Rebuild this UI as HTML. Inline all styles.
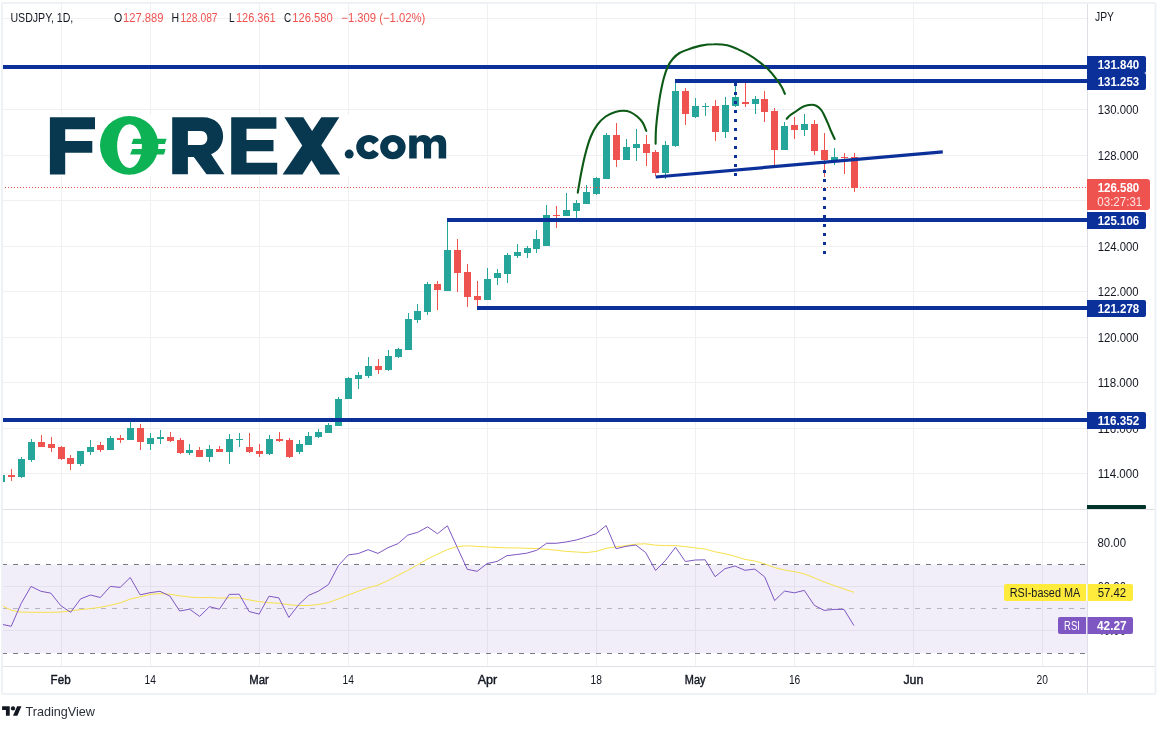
<!DOCTYPE html>
<html><head><meta charset="utf-8"><title>USDJPY 1D</title>
<style>html,body{margin:0;padding:0;background:#fff;}body{width:1165px;height:729px;overflow:hidden;}svg{display:block;will-change:transform;}text{font-family:"Liberation Sans",sans-serif;}</style>
</head><body>
<svg width="1165" height="729" viewBox="0 0 1165 729">
<rect x="0" y="0" width="1165" height="729" fill="#ffffff"/>
<g shape-rendering="crispEdges" fill="#f0f0f2">
<rect x="61" y="4" width="1" height="662"/>
<rect x="150" y="4" width="1" height="662"/>
<rect x="259" y="4" width="1" height="662"/>
<rect x="348" y="4" width="1" height="662"/>
<rect x="487" y="4" width="1" height="662"/>
<rect x="596" y="4" width="1" height="662"/>
<rect x="695" y="4" width="1" height="662"/>
<rect x="794" y="4" width="1" height="662"/>
<rect x="913" y="4" width="1" height="662"/>
<rect x="1042" y="4" width="1" height="662"/>
<rect x="3" y="18" width="1084" height="1"/>
<rect x="3" y="109" width="1084" height="1"/>
<rect x="3" y="155" width="1084" height="1"/>
<rect x="3" y="200" width="1084" height="1"/>
<rect x="3" y="246" width="1084" height="1"/>
<rect x="3" y="291" width="1084" height="1"/>
<rect x="3" y="337" width="1084" height="1"/>
<rect x="3" y="382" width="1084" height="1"/>
<rect x="3" y="428" width="1084" height="1"/>
<rect x="3" y="473" width="1084" height="1"/>
<rect x="3" y="542" width="1084" height="1"/>
<rect x="3" y="586" width="1084" height="1"/>
<rect x="3" y="630" width="1084" height="1"/>
</g>
<rect x="2" y="565" width="1085" height="88" fill="#7e57c2" fill-opacity="0.1"/>
<g shape-rendering="crispEdges" fill="none" stroke-width="1">
<path d="M2 564.5H1087" stroke="#787b86" stroke-dasharray="5 6"/>
<path d="M2 608.5H1087" stroke="#787b86" stroke-opacity="0.5" stroke-dasharray="5 6"/>
<path d="M2 653.5H1087" stroke="#787b86" stroke-dasharray="5 6"/>
</g>
<g id="logo">
<rect x="49" y="115" width="398" height="61" fill="#ffffff"/>
<g fill="#07384f">
<path d="M49.9 117.3H95V129.3H65.2V141H92.3V152.8H65.2V174.4H49.9Z"/>
<path fill-rule="evenodd" d="M172.2 117.2H203C215 117.2 223.1 125 223.1 136C223.1 145 218 151.5 211.1 154.2L224.4 174.3H206.5L193.8 157.1H187.9V174.3H172.2ZM187.9 131.1V145.1H201C205 145.1 207.3 142 207.3 138.1C207.3 134 205 131.1 201 131.1Z"/>
<path d="M231.2 117.3H276.4V128.7H246.5V140.1H273.5V151.2H246.5V162.8H277.2V174.4H231.2Z"/>
<path d="M284.4 117.3H303.3L312.1 130.9L321.3 117.3H339.3L321.3 145.3L340.2 174.4H320.4L311.5 160.3L302.4 174.4H282.6L302.2 145.4Z"/>
<circle cx="349.2" cy="154.1" r="4.5"/>
<clipPath id="cc"><path d="M350 130H378.5V140.7L373 144.6V149.7L378.5 153.3V164H350Z"/></clipPath>
<path clip-path="url(#cc)" fill-rule="evenodd" d="M368.95 134.9A12.75 12.15 0 1 0 368.95 159.2A12.75 12.15 0 1 0 368.95 134.9ZM368.95 142.1A4.9 4.95 0 1 1 368.95 152A4.9 4.95 0 1 1 368.95 142.1Z"/>
<path fill-rule="evenodd" d="M392.9 134.9A12.75 12.15 0 1 0 392.9 159.2A12.75 12.15 0 1 0 392.9 134.9ZM392.9 142.1A4.9 4.95 0 1 1 392.9 152A4.9 4.95 0 1 1 392.9 142.1Z"/>
<path d="M409.2 158.5V135.6H416.7V138.3C418.2 136 420.7 134.9 423.3 134.9C426.8 134.9 429.3 136.4 430.6 139C432.4 136.4 435.2 134.9 438.3 134.9C443.3 134.9 446.2 138.2 446.2 143.7V158.5H438.7V145.5C438.7 143 437.4 141.6 435.2 141.6C433 141.6 431.1 143 431.1 145.5V158.5H424V145.5C424 143 422.6 141.6 420.5 141.6C418.3 141.6 416.7 143 416.7 145.5V158.5Z"/>
</g>
<g fill="#0db254">
<path fill-rule="evenodd" d="M129.2 116A29.2 29.4 0 1 0 129.2 174.8A29.2 29.4 0 1 0 129.2 116ZM129.5 124.2A12.4 21.9 0 1 1 129.5 168A12.4 21.9 0 1 1 129.5 124.2Z"/>
<path d="M133.4 138.8H166.6L164.9 143.9H131.5Z"/>
<path d="M132.3 148.9H165.6L164 154.4H130.1Z"/>
</g>
</g>
<g shape-rendering="crispEdges">
<rect x="3" y="475" width="2" height="7" fill="#26a69a"/>
<rect x="11" y="469" width="1" height="12" fill="#ef5350"/>
<rect x="8" y="475" width="7" height="2" fill="#ef5350"/>
<rect x="21" y="457" width="1" height="21" fill="#26a69a"/>
<rect x="18" y="459" width="7" height="18" fill="#26a69a"/>
<rect x="31" y="439" width="1" height="23" fill="#26a69a"/>
<rect x="28" y="442" width="7" height="18" fill="#26a69a"/>
<rect x="41" y="435" width="1" height="12" fill="#ef5350"/>
<rect x="38" y="442" width="7" height="5" fill="#ef5350"/>
<rect x="51" y="437" width="1" height="15" fill="#ef5350"/>
<rect x="48" y="444" width="7" height="4" fill="#ef5350"/>
<rect x="61" y="446" width="1" height="14" fill="#ef5350"/>
<rect x="58" y="447" width="7" height="12" fill="#ef5350"/>
<rect x="70" y="455" width="1" height="15" fill="#ef5350"/>
<rect x="67" y="458" width="7" height="6" fill="#ef5350"/>
<rect x="80" y="451" width="1" height="15" fill="#26a69a"/>
<rect x="77" y="451" width="7" height="13" fill="#26a69a"/>
<rect x="90" y="440" width="1" height="15" fill="#26a69a"/>
<rect x="87" y="447" width="7" height="5" fill="#26a69a"/>
<rect x="100" y="442" width="1" height="10" fill="#ef5350"/>
<rect x="97" y="445" width="7" height="5" fill="#ef5350"/>
<rect x="110" y="436" width="1" height="14" fill="#26a69a"/>
<rect x="107" y="438" width="7" height="12" fill="#26a69a"/>
<rect x="120" y="435" width="1" height="8" fill="#ef5350"/>
<rect x="117" y="438" width="7" height="2" fill="#ef5350"/>
<rect x="130" y="422" width="1" height="18" fill="#26a69a"/>
<rect x="127" y="428" width="7" height="12" fill="#26a69a"/>
<rect x="140" y="424" width="1" height="26" fill="#ef5350"/>
<rect x="137" y="428" width="7" height="14" fill="#ef5350"/>
<rect x="150" y="433" width="1" height="17" fill="#26a69a"/>
<rect x="147" y="438" width="7" height="6" fill="#26a69a"/>
<rect x="160" y="430" width="1" height="14" fill="#26a69a"/>
<rect x="157" y="437" width="7" height="2" fill="#26a69a"/>
<rect x="170" y="432" width="1" height="10" fill="#ef5350"/>
<rect x="167" y="437" width="7" height="4" fill="#ef5350"/>
<rect x="180" y="438" width="1" height="16" fill="#ef5350"/>
<rect x="177" y="440" width="7" height="13" fill="#ef5350"/>
<rect x="189" y="444" width="1" height="11" fill="#26a69a"/>
<rect x="186" y="450" width="7" height="3" fill="#26a69a"/>
<rect x="199" y="447" width="1" height="10" fill="#ef5350"/>
<rect x="196" y="450" width="7" height="7" fill="#ef5350"/>
<rect x="209" y="445" width="1" height="17" fill="#26a69a"/>
<rect x="206" y="449" width="7" height="8" fill="#26a69a"/>
<rect x="219" y="446" width="1" height="6" fill="#ef5350"/>
<rect x="216" y="449" width="7" height="3" fill="#ef5350"/>
<rect x="229" y="434" width="1" height="30" fill="#26a69a"/>
<rect x="226" y="439" width="7" height="13" fill="#26a69a"/>
<rect x="239" y="433" width="1" height="14" fill="#26a69a"/>
<rect x="236" y="439" width="7" height="1" fill="#26a69a"/>
<rect x="249" y="433" width="1" height="20" fill="#ef5350"/>
<rect x="246" y="447" width="7" height="5" fill="#ef5350"/>
<rect x="259" y="444" width="1" height="13" fill="#ef5350"/>
<rect x="256" y="451" width="7" height="3" fill="#ef5350"/>
<rect x="269" y="435" width="1" height="20" fill="#26a69a"/>
<rect x="266" y="439" width="7" height="15" fill="#26a69a"/>
<rect x="279" y="432" width="1" height="10" fill="#ef5350"/>
<rect x="276" y="439" width="7" height="2" fill="#ef5350"/>
<rect x="289" y="438" width="1" height="20" fill="#ef5350"/>
<rect x="286" y="440" width="7" height="17" fill="#ef5350"/>
<rect x="299" y="440" width="1" height="14" fill="#26a69a"/>
<rect x="296" y="444" width="7" height="8" fill="#26a69a"/>
<rect x="308" y="432" width="1" height="13" fill="#26a69a"/>
<rect x="305" y="436" width="7" height="9" fill="#26a69a"/>
<rect x="318" y="429" width="1" height="9" fill="#26a69a"/>
<rect x="315" y="432" width="7" height="5" fill="#26a69a"/>
<rect x="328" y="423" width="1" height="10" fill="#26a69a"/>
<rect x="325" y="425" width="7" height="8" fill="#26a69a"/>
<rect x="338" y="397" width="1" height="29" fill="#26a69a"/>
<rect x="335" y="399" width="7" height="27" fill="#26a69a"/>
<rect x="348" y="377" width="1" height="22" fill="#26a69a"/>
<rect x="345" y="378" width="7" height="21" fill="#26a69a"/>
<rect x="358" y="372" width="1" height="17" fill="#26a69a"/>
<rect x="355" y="375" width="7" height="4" fill="#26a69a"/>
<rect x="368" y="357" width="1" height="21" fill="#26a69a"/>
<rect x="365" y="366" width="7" height="10" fill="#26a69a"/>
<rect x="378" y="359" width="1" height="15" fill="#ef5350"/>
<rect x="375" y="366" width="7" height="4" fill="#ef5350"/>
<rect x="388" y="350" width="1" height="21" fill="#26a69a"/>
<rect x="385" y="356" width="7" height="14" fill="#26a69a"/>
<rect x="398" y="348" width="1" height="10" fill="#26a69a"/>
<rect x="395" y="349" width="7" height="8" fill="#26a69a"/>
<rect x="408" y="313" width="1" height="37" fill="#26a69a"/>
<rect x="405" y="319" width="7" height="31" fill="#26a69a"/>
<rect x="417" y="304" width="1" height="19" fill="#26a69a"/>
<rect x="414" y="311" width="7" height="9" fill="#26a69a"/>
<rect x="427" y="282" width="1" height="33" fill="#26a69a"/>
<rect x="424" y="284" width="7" height="28" fill="#26a69a"/>
<rect x="437" y="281" width="1" height="29" fill="#ef5350"/>
<rect x="434" y="284" width="7" height="6" fill="#ef5350"/>
<rect x="447" y="220" width="1" height="71" fill="#26a69a"/>
<rect x="444" y="250" width="7" height="41" fill="#26a69a"/>
<rect x="457" y="239" width="1" height="53" fill="#ef5350"/>
<rect x="454" y="250" width="7" height="23" fill="#ef5350"/>
<rect x="467" y="264" width="1" height="43" fill="#ef5350"/>
<rect x="464" y="272" width="7" height="25" fill="#ef5350"/>
<rect x="477" y="281" width="1" height="25" fill="#ef5350"/>
<rect x="474" y="296" width="7" height="4" fill="#ef5350"/>
<rect x="487" y="268" width="1" height="32" fill="#26a69a"/>
<rect x="484" y="279" width="7" height="21" fill="#26a69a"/>
<rect x="497" y="269" width="1" height="16" fill="#26a69a"/>
<rect x="494" y="273" width="7" height="5" fill="#26a69a"/>
<rect x="507" y="253" width="1" height="30" fill="#26a69a"/>
<rect x="504" y="255" width="7" height="19" fill="#26a69a"/>
<rect x="517" y="244" width="1" height="14" fill="#26a69a"/>
<rect x="514" y="252" width="7" height="4" fill="#26a69a"/>
<rect x="527" y="246" width="1" height="12" fill="#26a69a"/>
<rect x="524" y="248" width="7" height="5" fill="#26a69a"/>
<rect x="536" y="230" width="1" height="23" fill="#26a69a"/>
<rect x="533" y="239" width="7" height="10" fill="#26a69a"/>
<rect x="546" y="205" width="1" height="41" fill="#26a69a"/>
<rect x="543" y="215" width="7" height="31" fill="#26a69a"/>
<rect x="556" y="206" width="1" height="22" fill="#ef5350"/>
<rect x="553" y="215" width="7" height="1" fill="#ef5350"/>
<rect x="566" y="193" width="1" height="23" fill="#26a69a"/>
<rect x="563" y="210" width="7" height="6" fill="#26a69a"/>
<rect x="576" y="200" width="1" height="18" fill="#26a69a"/>
<rect x="573" y="203" width="7" height="8" fill="#26a69a"/>
<rect x="586" y="185" width="1" height="19" fill="#26a69a"/>
<rect x="583" y="192" width="7" height="12" fill="#26a69a"/>
<rect x="596" y="177" width="1" height="18" fill="#26a69a"/>
<rect x="593" y="178" width="7" height="16" fill="#26a69a"/>
<rect x="606" y="133" width="1" height="46" fill="#26a69a"/>
<rect x="603" y="135" width="7" height="44" fill="#26a69a"/>
<rect x="616" y="123" width="1" height="44" fill="#ef5350"/>
<rect x="613" y="135" width="7" height="25" fill="#ef5350"/>
<rect x="626" y="139" width="1" height="21" fill="#26a69a"/>
<rect x="623" y="147" width="7" height="13" fill="#26a69a"/>
<rect x="636" y="129" width="1" height="32" fill="#26a69a"/>
<rect x="633" y="144" width="7" height="4" fill="#26a69a"/>
<rect x="646" y="135" width="1" height="31" fill="#ef5350"/>
<rect x="643" y="144" width="7" height="9" fill="#ef5350"/>
<rect x="655" y="150" width="1" height="26" fill="#ef5350"/>
<rect x="652" y="152" width="7" height="21" fill="#ef5350"/>
<rect x="665" y="141" width="1" height="38" fill="#26a69a"/>
<rect x="662" y="145" width="7" height="28" fill="#26a69a"/>
<rect x="675" y="83" width="1" height="64" fill="#26a69a"/>
<rect x="672" y="91" width="7" height="55" fill="#26a69a"/>
<rect x="685" y="88" width="1" height="37" fill="#ef5350"/>
<rect x="682" y="91" width="7" height="23" fill="#ef5350"/>
<rect x="695" y="98" width="1" height="20" fill="#26a69a"/>
<rect x="692" y="106" width="7" height="11" fill="#26a69a"/>
<rect x="705" y="103" width="1" height="13" fill="#26a69a"/>
<rect x="702" y="106" width="7" height="1" fill="#26a69a"/>
<rect x="715" y="100" width="1" height="41" fill="#ef5350"/>
<rect x="712" y="106" width="7" height="26" fill="#ef5350"/>
<rect x="725" y="97" width="1" height="41" fill="#26a69a"/>
<rect x="722" y="105" width="7" height="27" fill="#26a69a"/>
<rect x="735" y="83" width="1" height="24" fill="#26a69a"/>
<rect x="732" y="97" width="7" height="9" fill="#26a69a"/>
<rect x="745" y="83" width="1" height="24" fill="#ef5350"/>
<rect x="742" y="102" width="7" height="2" fill="#ef5350"/>
<rect x="755" y="96" width="1" height="18" fill="#26a69a"/>
<rect x="752" y="99" width="7" height="5" fill="#26a69a"/>
<rect x="764" y="91" width="1" height="31" fill="#ef5350"/>
<rect x="761" y="99" width="7" height="13" fill="#ef5350"/>
<rect x="774" y="108" width="1" height="57" fill="#ef5350"/>
<rect x="771" y="111" width="7" height="39" fill="#ef5350"/>
<rect x="784" y="122" width="1" height="28" fill="#26a69a"/>
<rect x="781" y="126" width="7" height="24" fill="#26a69a"/>
<rect x="794" y="117" width="1" height="22" fill="#ef5350"/>
<rect x="791" y="125" width="7" height="5" fill="#ef5350"/>
<rect x="804" y="114" width="1" height="22" fill="#26a69a"/>
<rect x="801" y="124" width="7" height="6" fill="#26a69a"/>
<rect x="814" y="120" width="1" height="35" fill="#ef5350"/>
<rect x="811" y="124" width="7" height="27" fill="#ef5350"/>
<rect x="824" y="133" width="1" height="44" fill="#ef5350"/>
<rect x="821" y="150" width="7" height="10" fill="#ef5350"/>
<rect x="834" y="148" width="1" height="17" fill="#26a69a"/>
<rect x="831" y="157" width="7" height="3" fill="#26a69a"/>
<rect x="844" y="153" width="1" height="21" fill="#ef5350"/>
<rect x="841" y="157" width="7" height="1" fill="#ef5350"/>
<rect x="854" y="153" width="1" height="39" fill="#ef5350"/>
<rect x="851" y="157" width="7" height="31" fill="#ef5350"/>
</g>
<path d="M2 187.5H1087" stroke="#ef5350" stroke-width="1" stroke-dasharray="1 2" fill="none" shape-rendering="crispEdges"/>
<g shape-rendering="crispEdges" fill="#0c309a">
<rect x="3" y="65" width="1084" height="4"/>
<rect x="675" y="79" width="412" height="4"/>
<rect x="447" y="218" width="640" height="4"/>
<rect x="477" y="306" width="610" height="4"/>
<rect x="3" y="418" width="1084" height="4"/>
</g>
<path d="M655.7 177L942.8 151.9" stroke="#0c309a" stroke-width="3.2" fill="none"/>
<path d="M735.5 83V176" stroke="#0c309a" stroke-width="3" stroke-dasharray="3 6" fill="none"/>
<path d="M824.5 161.1V254.2" stroke="#0c309a" stroke-width="3" stroke-dasharray="3 6" fill="none"/>
<g fill="none" stroke="#0c5a16" stroke-width="2.1" stroke-linecap="round" stroke-linejoin="round">
<path d="M577.8 192.6C578.3 189.5 579.8 180.3 581.0 174.0C582.2 167.7 583.5 161.1 585.1 154.9C586.7 148.7 588.6 142.0 590.6 137.0C592.6 132.0 594.9 128.1 597.4 124.7C599.9 121.3 602.7 118.6 605.7 116.5C608.7 114.4 612.3 113.1 615.3 112.1C618.3 111.1 621.0 110.7 623.5 110.7C626.0 110.7 628.1 111.1 630.4 112.1C632.7 113.1 635.2 114.8 637.2 116.5C639.2 118.2 641.2 120.2 642.7 122.6C644.2 125.0 645.7 129.5 646.3 130.9"/>
<path d="M655.6 143.6C655.7 141.1 655.6 134.6 656.0 128.8C656.4 123.0 657.3 115.0 658.1 109.0C658.9 103.0 659.6 97.8 660.6 92.6C661.6 87.4 662.7 82.1 663.9 77.7C665.1 73.3 666.5 69.4 668.0 66.2C669.5 63.1 671.0 61.0 672.9 58.8C674.8 56.6 676.8 54.6 679.5 53.0C682.2 51.4 685.8 50.1 689.4 48.9C693.0 47.7 696.8 46.4 700.9 45.6C705.0 44.8 709.7 44.3 714.1 44.3C718.5 44.2 723.4 44.5 727.2 45.3C731.0 46.1 733.5 47.3 737.1 48.9C740.7 50.5 745.0 52.6 748.6 54.7C752.2 56.8 755.2 58.8 758.5 61.3C761.8 63.8 765.4 66.5 768.4 69.5C771.4 72.5 774.4 76.5 776.6 79.4C778.8 82.3 780.2 84.4 781.6 86.8C783.0 89.2 784.4 92.7 784.9 93.9"/>
<path d="M786.7 118.8C787.2 118.2 788.4 116.6 789.8 115.5C791.1 114.4 793.0 113.4 794.8 112.2C796.6 111.0 798.6 109.2 800.5 108.1C802.4 107.0 804.4 106.1 806.3 105.6C808.2 105.0 810.4 104.8 812.0 104.8C813.6 104.8 814.8 105.1 816.2 105.8C817.6 106.5 819.1 107.6 820.3 108.9C821.5 110.2 822.4 111.6 823.6 113.9C824.8 116.2 826.3 119.8 827.7 122.9C829.1 126.1 830.6 130.1 831.8 132.8C833.0 135.5 834.2 138.0 834.7 139.0"/>
</g>
<clipPath id="pc"><rect x="3" y="510" width="1084" height="156"/></clipPath>
<g clip-path="url(#pc)" fill="none" stroke-width="1" stroke-linejoin="round">
<path d="M1.3 605.3L11.2 610.2L21.1 612.1L31.0 612.3L40.9 612.3L50.8 612.3L60.8 612.1L70.7 610.8L80.6 609.6L90.5 608.6L100.4 607.3L110.3 605.3L120.2 602.8L130.2 599.1L140.1 596.8L150.0 594.4L159.9 593.6L169.8 594.2L179.7 595.8L189.6 597.1L199.6 597.7L209.5 597.4L219.4 598.1L229.3 597.9L239.2 597.9L249.1 599.9L259.1 601.6L269.0 602.8L278.9 603.2L288.8 604.7L298.7 605.5L308.6 605.5L318.5 604.5L328.5 602.6L338.4 598.9L348.3 595.0L358.2 591.3L368.1 587.8L378.0 585.1L387.9 580.6L397.9 575.4L407.8 570.3L417.7 564.8L427.6 559.0L437.5 554.2L447.4 549.5L457.3 546.6L467.3 545.8L477.2 546.4L487.1 547.0L497.0 547.5L506.9 547.9L516.8 547.9L526.7 548.3L536.7 548.5L546.6 549.3L556.5 550.3L566.4 551.4L576.3 552.0L586.2 552.6L596.1 551.4L606.1 548.4L616.0 546.8L625.9 545.6L635.8 544.2L645.7 543.8L655.6 545.2L665.5 545.6L675.5 545.6L685.4 546.6L695.3 547.9L705.2 549.1L715.1 551.8L725.0 553.8L734.9 556.3L744.9 559.4L754.8 561.0L764.7 563.9L774.6 567.6L784.5 570.0L794.4 571.6L804.3 573.9L814.3 577.8L824.2 582.0L834.1 585.5L844.0 589.0L853.9 592.3" stroke="#f7e14a"/>
<path d="M1.3 624.2L11.2 626.3L21.1 603.6L31.0 586.4L40.9 591.3L50.8 593.1L60.8 605.7L70.7 612.3L80.6 598.9L90.5 595.0L100.4 597.5L110.3 586.4L120.2 587.4L130.2 577.5L140.1 594.8L150.0 592.7L159.9 591.3L169.8 596.0L179.7 611.0L189.6 609.2L199.6 616.4L209.5 606.7L219.4 609.2L229.3 594.4L239.2 594.2L249.1 611.5L259.1 614.1L269.0 596.2L278.9 597.9L288.8 617.4L298.7 604.7L308.6 595.4L318.5 591.1L328.5 584.5L338.4 565.6L348.3 554.9L358.2 553.6L368.1 549.7L378.0 553.4L387.9 547.7L397.9 543.7L407.8 535.1L417.7 532.3L427.6 526.9L437.5 533.7L447.4 525.8L457.3 547.5L467.3 569.3L477.2 571.3L487.1 563.5L497.0 561.5L506.9 555.7L516.8 554.5L526.7 553.2L536.7 550.3L546.6 543.3L556.5 543.3L566.4 541.9L576.3 540.0L586.2 537.0L596.1 533.7L606.1 525.5L616.0 548.7L625.9 546.4L635.8 545.0L645.7 552.6L655.6 570.5L665.5 560.4L675.5 547.3L685.4 561.5L695.3 560.0L705.2 559.8L715.1 576.7L725.0 568.7L734.9 566.0L744.9 570.3L754.8 569.1L764.7 576.9L774.6 600.6L784.5 591.1L794.4 592.8L804.3 590.4L814.3 605.3L824.2 610.4L834.1 609.4L844.0 609.4L853.9 625.5" stroke="#7e57c2"/>
</g>
<g shape-rendering="crispEdges" fill="#dfe0e5">
<rect x="3" y="509" width="1152" height="1"/>
<rect x="3" y="666" width="1152" height="1"/>
<rect x="1087" y="4" width="1" height="689"/>
</g>
<text x="1095" y="21" font-size="12" fill="#131722" textLength="19" lengthAdjust="spacingAndGlyphs">JPY</text>
<text x="1097.7" y="114" font-size="12" fill="#131722" textLength="41" lengthAdjust="spacingAndGlyphs">130.000</text>
<text x="1097.7" y="159.5" font-size="12" fill="#131722" textLength="41" lengthAdjust="spacingAndGlyphs">128.000</text>
<text x="1097.7" y="250.5" font-size="12" fill="#131722" textLength="41" lengthAdjust="spacingAndGlyphs">124.000</text>
<text x="1097.7" y="296" font-size="12" fill="#131722" textLength="41" lengthAdjust="spacingAndGlyphs">122.000</text>
<text x="1097.7" y="341.5" font-size="12" fill="#131722" textLength="41" lengthAdjust="spacingAndGlyphs">120.000</text>
<text x="1097.7" y="387" font-size="12" fill="#131722" textLength="41" lengthAdjust="spacingAndGlyphs">118.000</text>
<text x="1097.7" y="433" font-size="12" fill="#131722" textLength="41" lengthAdjust="spacingAndGlyphs">116.000</text>
<text x="1097.7" y="477.5" font-size="12" fill="#131722" textLength="41" lengthAdjust="spacingAndGlyphs">114.000</text>
<text x="1097.5" y="547" font-size="12" fill="#131722" textLength="28.5" lengthAdjust="spacingAndGlyphs">80.00</text>
<text x="1097.5" y="591" font-size="12" fill="#131722" textLength="28.5" lengthAdjust="spacingAndGlyphs">60.00</text>
<text x="1097.5" y="635" font-size="12" fill="#131722" textLength="28.5" lengthAdjust="spacingAndGlyphs">40.00</text>
<path d="M1087 56H1144Q1146 56 1146 58V71Q1146 73 1144 73H1087Z" fill="#0c309a"/>
<path d="M1087 73H1144Q1146 73 1146 75V88Q1146 90 1144 90H1087Z" fill="#0c309a"/>
<text x="1097.7" y="69" font-size="12" fill="#ffffff" font-weight="bold" textLength="41.5" lengthAdjust="spacingAndGlyphs">131.840</text>
<text x="1097.7" y="86" font-size="12" fill="#ffffff" font-weight="bold" textLength="41.5" lengthAdjust="spacingAndGlyphs">131.253</text>
<path d="M1087 179H1147Q1150 179 1150 182V207Q1150 210 1147 210H1087Z" fill="#ef5350"/>
<text x="1097.7" y="192" font-size="12" fill="#ffffff" font-weight="bold" textLength="41.5" lengthAdjust="spacingAndGlyphs">126.580</text>
<text x="1097.3" y="206" font-size="12" fill="#ffffff" textLength="45" lengthAdjust="spacingAndGlyphs" fill-opacity="0.85">03:27:31</text>
<path d="M1087 212H1144Q1146 212 1146 214V227Q1146 229 1144 229H1087Z" fill="#0c309a"/>
<text x="1097.7" y="225" font-size="12" fill="#ffffff" font-weight="bold" textLength="41.5" lengthAdjust="spacingAndGlyphs">125.106</text>
<path d="M1087 300H1144Q1146 300 1146 302V315Q1146 317 1144 317H1087Z" fill="#0c309a"/>
<text x="1097.7" y="313" font-size="12" fill="#ffffff" font-weight="bold" textLength="41.5" lengthAdjust="spacingAndGlyphs">121.278</text>
<path d="M1087 412H1144Q1146 412 1146 414V427Q1146 429 1144 429H1087Z" fill="#0c309a"/>
<text x="1097.7" y="425" font-size="12" fill="#ffffff" font-weight="bold" textLength="41.5" lengthAdjust="spacingAndGlyphs">116.352</text>
<path d="M1087 505H1145Q1146 505 1146 506V508Q1146 509 1145 509H1087Z" fill="#00332a"/>
<path d="M1086 584H1006Q1004 584 1004 586V599Q1004 601 1006 601H1086Z" fill="#ffeb3b"/>
<path d="M1087.5 584H1131.0Q1133.0 584 1133.0 586V599Q1133.0 601 1131.0 601H1087.5Z" fill="#ffeb3b"/>
<rect x="1086" y="584" width="1.5" height="17" fill="#fffde7"/>
<rect x="1086" y="617" width="1.5" height="17" fill="#ede7f6"/>
<text x="1009.7" y="597" font-size="12" fill="#131722" textLength="70.5" lengthAdjust="spacingAndGlyphs">RSI-based MA</text>
<text x="1097.7" y="597" font-size="12" fill="#131722" textLength="28.5" lengthAdjust="spacingAndGlyphs">57.42</text>
<path d="M1086 617H1060Q1058 617 1058 619V632Q1058 634 1060 634H1086Z" fill="#7e57c2"/>
<path d="M1087.5 617H1131.0Q1133.0 617 1133.0 619V632Q1133.0 634 1131.0 634H1087.5Z" fill="#7e57c2"/>
<text x="1064.1" y="630" font-size="12" fill="#ffffff" textLength="15.8" lengthAdjust="spacingAndGlyphs">RSI</text>
<text x="1097" y="630" font-size="12" fill="#ffffff" font-weight="bold" textLength="29.6" lengthAdjust="spacingAndGlyphs">42.27</text>
<text x="60.6" y="684" font-size="12" fill="#131722" textLength="20" lengthAdjust="spacingAndGlyphs" text-anchor="middle" stroke="#131722" stroke-width="0.4">Feb</text>
<text x="150.3" y="684" font-size="12" fill="#131722" textLength="11.4" lengthAdjust="spacingAndGlyphs" text-anchor="middle">14</text>
<text x="259.1" y="684" font-size="12" fill="#131722" textLength="19.5" lengthAdjust="spacingAndGlyphs" text-anchor="middle" stroke="#131722" stroke-width="0.4">Mar</text>
<text x="348.2" y="684" font-size="12" fill="#131722" textLength="11.4" lengthAdjust="spacingAndGlyphs" text-anchor="middle">14</text>
<text x="487.5" y="684" font-size="12" fill="#131722" textLength="19.5" lengthAdjust="spacingAndGlyphs" text-anchor="middle" stroke="#131722" stroke-width="0.4">Apr</text>
<text x="596.3" y="684" font-size="12" fill="#131722" textLength="11.4" lengthAdjust="spacingAndGlyphs" text-anchor="middle">18</text>
<text x="695.1" y="684" font-size="12" fill="#131722" textLength="20.7" lengthAdjust="spacingAndGlyphs" text-anchor="middle" stroke="#131722" stroke-width="0.4">May</text>
<text x="794.6" y="684" font-size="12" fill="#131722" textLength="11.4" lengthAdjust="spacingAndGlyphs" text-anchor="middle">16</text>
<text x="913.4" y="684" font-size="12" fill="#131722" textLength="20" lengthAdjust="spacingAndGlyphs" text-anchor="middle" stroke="#131722" stroke-width="0.4">Jun</text>
<text x="1042.2" y="684" font-size="12" fill="#131722" textLength="11.4" lengthAdjust="spacingAndGlyphs" text-anchor="middle">20</text>
<text x="10.4" y="22" font-size="12" fill="#131722" textLength="62.9" lengthAdjust="spacingAndGlyphs">USDJPY, 1D,</text>
<text x="114" y="22" font-size="12" fill="#131722" textLength="8.2" lengthAdjust="spacingAndGlyphs">O</text>
<text x="123" y="22" font-size="12" fill="#ef5350" textLength="40.4" lengthAdjust="spacingAndGlyphs">127.889</text>
<text x="171.5" y="22" font-size="12" fill="#131722" textLength="7.6" lengthAdjust="spacingAndGlyphs">H</text>
<text x="180.4" y="22" font-size="12" fill="#ef5350" textLength="37.2" lengthAdjust="spacingAndGlyphs">128.087</text>
<text x="228.9" y="22" font-size="12" fill="#131722" textLength="5.6" lengthAdjust="spacingAndGlyphs">L</text>
<text x="235.9" y="22" font-size="12" fill="#ef5350" textLength="39.8" lengthAdjust="spacingAndGlyphs">126.361</text>
<text x="284" y="22" font-size="12" fill="#131722" textLength="7.2" lengthAdjust="spacingAndGlyphs">C</text>
<text x="292.2" y="22" font-size="12" fill="#ef5350" textLength="40.6" lengthAdjust="spacingAndGlyphs">126.580</text>
<text x="341.3" y="22" font-size="12" fill="#ef5350" textLength="84" lengthAdjust="spacingAndGlyphs">&#8722;1.309 (&#8722;1.02%)</text>
<g transform="translate(2.1 704.2) scale(0.545 0.525)" fill="#131722">
<path d="M14 22H7V11H0V4h14v18zM28 22h-8l7.5-18h8L28 22z"/><circle cx="20" cy="8" r="4"/>
</g>
<text x="25.5" y="715.8" font-size="13" fill="#2a2e39" textLength="69.4" lengthAdjust="spacingAndGlyphs">TradingView</text>
<rect x="2" y="3" width="1153.5" height="691" rx="1.5" fill="none" stroke="#eef1f6" stroke-width="2"/>
</svg>
</body></html>
